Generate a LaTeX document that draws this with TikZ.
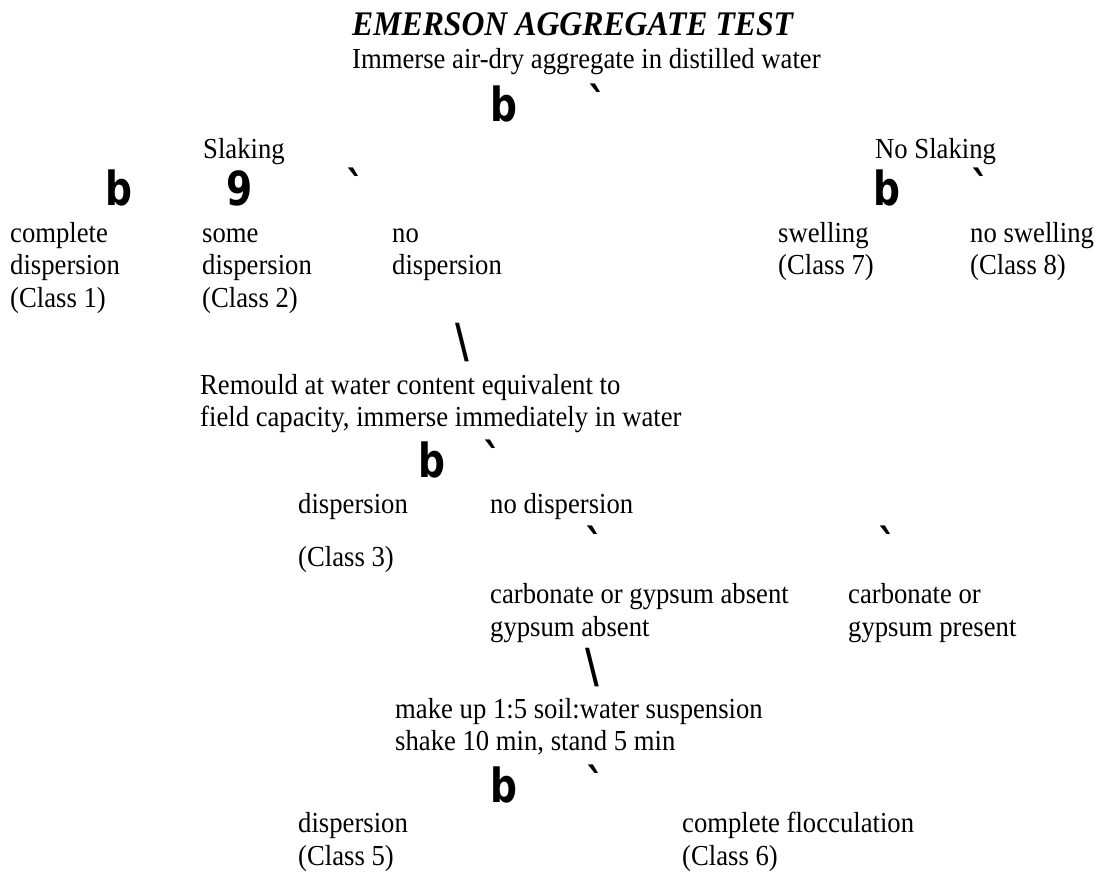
\documentclass[tikz,border=0pt]{standalone}
\usepackage{fontspec}
\setmainfont{Liberation Serif}[FakeStretch=0.92]
\newfontfamily\glyphfont{DejaVu Sans}[FakeStretch=0.8]
\tikzset{inner sep=0pt}

\begin{document}
\begin{tikzpicture}[x=1pt,y=-1pt,
            txt/.style={anchor=base west,align=left,font=\fontsize{29}{32.5}\selectfont},
            glyph/.style={anchor=base west,font=\glyphfont\bfseries\fontsize{47}{47}\selectfont}
            ]
            \useasboundingbox (0,0) rectangle (1094,873);
            % multi-line texts sit on the baseline of their last line
            \node[anchor=base west,font=\bfseries\itshape\fontsize{34.5}{36}\selectfont] (title) at (352,35) {EMERSON AGGREGATE TEST};
            \node[txt] (immerse) at (352,68) {Immerse air-dry aggregate in distilled water};
            \node[glyph] (ba) at (490,121) {b};
            \node[glyph] (ga) at (588,121) {\char96};
            \node[txt] (slaking) at (203,158) {Slaking};
            \node[txt] (noslaking) at (875,158) {No Slaking};
            \node[glyph] (bb) at (105,205) {b};
            \node[glyph] (nine) at (226,205) {9};
            \node[glyph] (gb) at (346,205) {\char96};
            \node[glyph] (bc) at (873,205) {b};
            \node[glyph] (gc) at (971,205) {\char96};
            \node[txt] (class1) at (10,307) {complete\\dispersion\\(Class 1)};
            \node[txt] (class2) at (202,307) {some\\dispersion\\(Class 2)};
            \node[txt] (nodisp) at (392,274.5) {no\\dispersion};
            \node[txt] (class7) at (778,274.5) {swelling\\(Class 7)};
            \node[txt] (class8) at (970,274.5) {no swelling\\(Class 8)};
            \node[glyph] (bsa) at (455,357) {\char92};
            \node[txt] (remould) at (200,426.5) {Remould at water content equivalent to\\field capacity, immerse immediately in water};
            \node[glyph] (bd) at (418,477) {b};
            \node[glyph] (gd) at (483,477) {\char96};
            \node[txt] (disp) at (298,513) {dispersion};
            \node[txt] (nodisp2) at (490,513) {no dispersion};
            \node[glyph] (ge) at (585,563) {\char96};
            \node[glyph] (gf) at (878,563) {\char96};
            \node[txt] (class3) at (298,566) {(Class 3)};
            \node[txt] (absent) at (490,636) {carbonate or gypsum absent\\gypsum absent};
            \node[txt] (present) at (848,636) {carbonate or\\gypsum present};
            \node[glyph] (bse) at (585,682) {\char92};
            \node[txt] (makeup) at (395,750.5) {make up 1:5 soil:water suspension\\shake 10 min, stand 5 min};
            \node[glyph] (bf) at (490,802) {b};
            \node[glyph] (gg) at (586,802) {\char96};
            \node[txt] (class5) at (298,865) {dispersion\\(Class 5)};
            \node[txt] (class6) at (682,865) {complete flocculation\\(Class 6)};
        \end{tikzpicture}
\end{document}
